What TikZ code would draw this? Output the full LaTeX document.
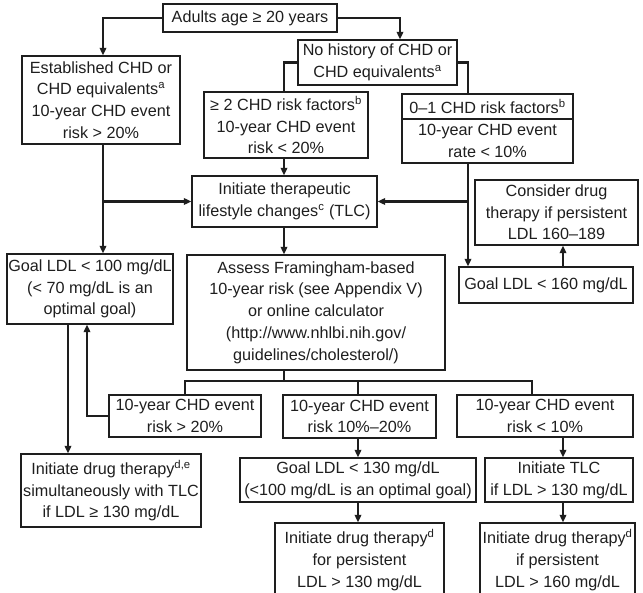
\documentclass[tikz,border=0pt]{standalone}
\usepackage{fontspec}
\setmainfont{Liberation Sans}
\usetikzlibrary{arrows.meta,calc}
\definecolor{ink}{HTML}{1E1E1E}
\begin{document}
\begin{tikzpicture}[x=1pt,y=-1pt,
  box/.style={draw=ink, line width=1.3pt, inner sep=0pt, align=center, text=ink,
    font=\fontsize{16.2}{21.7}\selectfont},
  boxsize/.style 2 args={minimum width=#1pt, minimum height=#2pt},
  link/.style={draw=ink, line width=2.4pt},
  arr/.style={link, -{Triangle[length=7.5pt,width=6.5pt]}},
]
\useasboundingbox (0,0) rectangle (643,593);
\clip (0,0) rectangle (643,593);

% vertical rails used by the connectors
\coordinate (railA) at (103,0);
\coordinate (railB) at (284,0);
\coordinate (railC) at (468,0);
\coordinate (railD) at (563,0);
\coordinate (railE) at (400,0);
\coordinate (railF) at (87,0);
\coordinate (railG) at (68,0);
\coordinate (railH) at (532,0);
\coordinate (railM) at (358,0);
\coordinate (bar) at (0,381);

% boxes
\node[box, boxsize={174}{28}] (adults) at (250,18) {Adults age ≥ 20 years};
\node[box, boxsize={158}{88}] (estab) at (101,100)
  {Established CHD or\\CHD equivalents\textsuperscript{a}\\10-year CHD event\\risk > 20\%};
\node[box, boxsize={159}{45}] (nohist) at (377.5,62.5)
  {No history of CHD or\\CHD equivalents\textsuperscript{a}};
\node[box, boxsize={164}{66}] (ge2) at (286,125)
  {≥ 2 CHD risk factors\textsuperscript{b}\\10-year CHD event\\risk < 20\%};
\node[box, boxsize={171}{25}] (zero1top) at (487.5,106.5)
  {0–1 CHD risk factors\textsuperscript{b}};
\node[box, boxsize={171}{44}] (zero1bot) at (487.5,141)
  {10-year CHD event\\rate < 10\%};
\node[box, boxsize={185}{51}] (tlc) at (284.5,201.5)
  {Initiate therapeutic\\lifestyle changes\textsuperscript{c} (TLC)};
\node[box, boxsize={163}{65}] (consider) at (556.5,212.5)
  {Consider drug\\therapy if persistent\\LDL 160–189};
\node[box, boxsize={174}{36}] (goal160) at (546,285) {Goal LDL < 160 mg/dL};
\node[box, boxsize={166}{70}] (goal100) at (90,289)
  {Goal LDL < 100 mg/dL\\(< 70 mg/dL is an\\optimal goal)};
\node[box, boxsize={258}{115}] (assess) at (316,312.5)
  {Assess Framingham-based\\10-year risk (see Appendix V)\\or online calculator\\(http://www.nhlbi.nih.gov/\\guidelines/cholesterol/)};
\node[box, boxsize={152}{42}] (r20) at (185,416) {10-year CHD event\\risk > 20\%};
\node[box, boxsize={153}{43}] (r1020) at (359.5,416.5) {10-year CHD event\\risk 10\%–20\%};
\node[box, boxsize={176}{42}] (r10) at (545,416) {10-year CHD event\\risk < 10\%};
\node[box, boxsize={180}{73}] (drugde) at (111,490.5)
  {Initiate drug therapy\textsuperscript{d,e}\\simultaneously with TLC\\if LDL ≥ 130 mg/dL};
\node[box, boxsize={236}{44}] (goal130) at (358,480)
  {Goal LDL < 130 mg/dL\\(<100 mg/dL is an optimal goal)};
\node[box, boxsize={148}{44}] (itlc) at (559,480) {Initiate TLC\\if LDL > 130 mg/dL};
\node[box, boxsize={169}{74}] (drugfor) at (359.5,560)
  {Initiate drug therapy\textsuperscript{d}\\for persistent\\LDL > 130 mg/dL};
\node[box, boxsize={155}{74}] (drugif) at (557.5,560)
  {Initiate drug therapy\textsuperscript{d}\\if persistent\\LDL > 160 mg/dL};

% connectors
\draw[arr] (adults.west) -| (estab.north -| railA);
\draw[arr] (adults.east) -| (nohist.north -| railE);
\draw[link] (nohist.west) -| (ge2.north -| railB);
\draw[link] (nohist.east) -| (zero1top.north -| railC);
\draw[arr] (ge2.south -| railB) -- (tlc.north -| railB);
\draw[arr] (tlc.south -| railB) -- (assess.north -| railB);
\draw[arr] (estab.south -| railA) -- (goal100.north -| railA);
\draw[arr] (tlc.west -| railA) -- (tlc.west);
\draw[arr] (zero1bot.south -| railC) -- (goal160.north -| railC);
\draw[arr] (tlc.east -| railC) -- (tlc.east);
\draw[arr] (goal160.north -| railD) -- (consider.south -| railD);
\draw[link] (assess.south -| railB) -- (bar -| railB);
\draw[link] (r20.north) |- (bar -| railH) -- (r10.north -| railH);
\draw[link] (r1020.north -| railM) -- (bar -| railM);
\draw[arr] (r20.west) -| (goal100.south -| railF);
\draw[arr] (goal100.south -| railG) -- (drugde.north -| railG);
\draw[arr] (r1020.south -| railM) -- (goal130.north -| railM);
\draw[arr] (r10.south -| railD) -- (itlc.north -| railD);
\draw[arr] (goal130.south -| railM) -- (drugfor.north -| railM);
\draw[arr] (itlc.south -| railD) -- (drugif.north -| railD);
\end{tikzpicture}
\end{document}
